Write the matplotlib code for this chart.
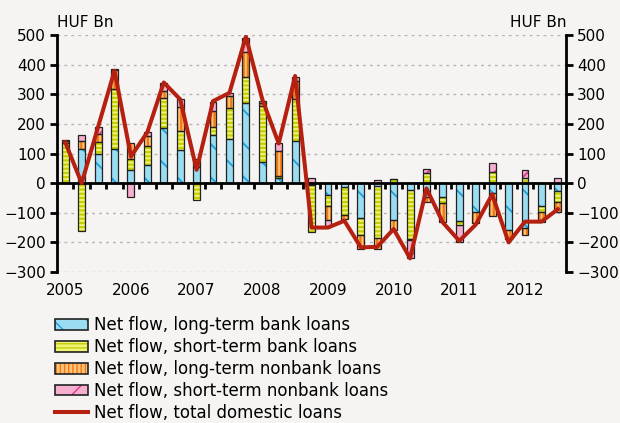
import matplotlib.pyplot as plt
import matplotlib.patches as mpatches
from matplotlib.lines import Line2D
import numpy as np

# quarterly net flows, 2005Q1 - 2012Q3 (HUF bn)
quarters = [f"{y}Q{q}" for y in range(2005, 2013) for q in range(1, 5)][:31]
years = ['2005', '2006', '2007', '2008', '2009', '2010', '2011', '2012']

lt_bank = [0, 116, 97, 114, 44, 60, 187, 111,
           53, 164, 148, 271, 73, 18, 142, -5,
           -41, -12, -116, -11, -124, -24, -48, -46,
           -127, -99, -32, -158, -150, -77, -28]
st_bank = [134, -163, 43, 205, 38, 67, 100, 64,
           -56, 26, 106, 88, 186, 6, 141, -159,
           -36, -96, -60, -175, 13, -163, 34, -22,
           -15, 0, 36, 0, 19, -22, -35]
lt_nonbank = [8, 28, 27, 62, 54, 32, 24, 82,
              0, 53, 42, 84, 12, 86, 62, 0,
              -47, -14, -45, -37, -34, -6, -17, -63,
              0, -34, -78, -31, -26, -32, -34]
st_nonbank = [3, 20, 23, 3, -46, 14, 28, 28,
              28, 31, 9, 48, 6, 26, 14, 17,
              -20, 0, 0, 11, 0, -61, 13, 0,
              -58, 0, 32, 0, 25, 0, 16]
total = [138, 0, 190, 380, 90, 172, 340, 283,
         45, 277, 305, 495, 283, 134, 362, -150,
         -150, -127, -217, -215, -155, -254, -18, -133,
         -195, -140, -38, -200, -130, -130, -88]

labels = ['Net flow, long-term bank loans',
          'Net flow, short-term bank loans',
          'Net flow, long-term nonbank loans',
          'Net flow, short-term nonbank loans',
          'Net flow, total domestic loans']

# (values, face, hatch colour, hatch, hatch width)
series = [
    (lt_bank, '#9adcf2', '#1c9fdc', '\\', 1.3),
    (st_bank, '#f0f27a', '#c4d000', '----', 1.6),
    (lt_nonbank, '#ffc27a', '#f07a10', '||||', 1.6),
    (st_nonbank, '#f7afd0', '#e0388a', '/', 1.3),
]

bg = '#f5f4f2'
plt.rcParams['font.family'] = ['DejaVu Sans']
plt.rcParams['font.size'] = 11

fig = plt.figure(figsize=(6.2, 4.23), dpi=100, facecolor=bg)
ax = fig.add_axes([0.092, 0.357, 0.821, 0.56], facecolor=bg)

x = np.arange(len(quarters))
width = 0.42
pos_bottom = np.zeros(len(x))
neg_bottom = np.zeros(len(x))
handles = []
for vals, face, hcol, hatch, hlw in series:
    v = np.array(vals, dtype=float)
    bottom = np.where(v >= 0, pos_bottom, neg_bottom)
    with plt.rc_context({'hatch.linewidth': hlw}):
        ax.bar(x, v, width, bottom=bottom, color=face, edgecolor=hcol,
               hatch=hatch, linewidth=0, zorder=2)
        fill = mpatches.Patch(facecolor=face, edgecolor=hcol, hatch=hatch, linewidth=0)
    ax.bar(x, v, width, bottom=bottom, fill=False, edgecolor='#222222',
           linewidth=0.9, zorder=3)
    outline = mpatches.Patch(fill=False, edgecolor='#222222', linewidth=1.2)
    handles.append((fill, outline))
    pos_bottom += np.clip(v, 0, None)
    neg_bottom += np.clip(v, None, 0)

ax.plot(x, total, color='#b52010', lw=2.9, zorder=5)
handles.append(Line2D([], [], color='#b52010', lw=2.9))

# axes
ax.set_xlim(-0.5, len(x) - 0.5)
ax.set_ylim(-300, 500)
yt = list(range(-300, 501, 100))
ax.set_yticks(yt, [str(t).replace('-', '\u2212') for t in yt])
ax.set_axisbelow(True)
ax.yaxis.grid(True, linestyle=(0, (2, 3)), color='#b4b4b4', lw=1)
ax.tick_params(axis='y', direction='out', length=5, width=2,
               left=True, right=True, labelleft=True, labelright=True, pad=3)

ax.spines['top'].set_visible(False)
for s in ['left', 'right']:
    ax.spines[s].set_linewidth(2)
    ax.spines[s].set_bounds(-300, 500)
ax.spines['bottom'].set_position(('data', 0))
ax.spines['bottom'].set_linewidth(2)
ax.spines['bottom'].set_zorder(4)
ax.set_xticks(np.arange(-0.5, len(x), 1))
ax.tick_params(axis='x', direction='out', length=4, width=2, labelbottom=False)
ax.xaxis.set_zorder(4)

sec = ax.secondary_xaxis('bottom')
sec.set_xticks(x[::4], years)
sec.tick_params(length=0, pad=8)
sec.spines['bottom'].set_visible(False)

ax.text(0.0, 1.02, 'HUF Bn', transform=ax.transAxes, ha='left', va='bottom')
ax.text(1.0, 1.02, 'HUF Bn', transform=ax.transAxes, ha='right', va='bottom')

fig.legend(handles, labels, loc='upper left', bbox_to_anchor=(0.089, 0.252),
           frameon=False, fontsize=12, handlelength=1.95, handleheight=0.62,
           handletextpad=0.35, labelspacing=0.23, borderaxespad=0, borderpad=0)

fig.savefig('out.png', dpi=100, facecolor=fig.get_facecolor())
